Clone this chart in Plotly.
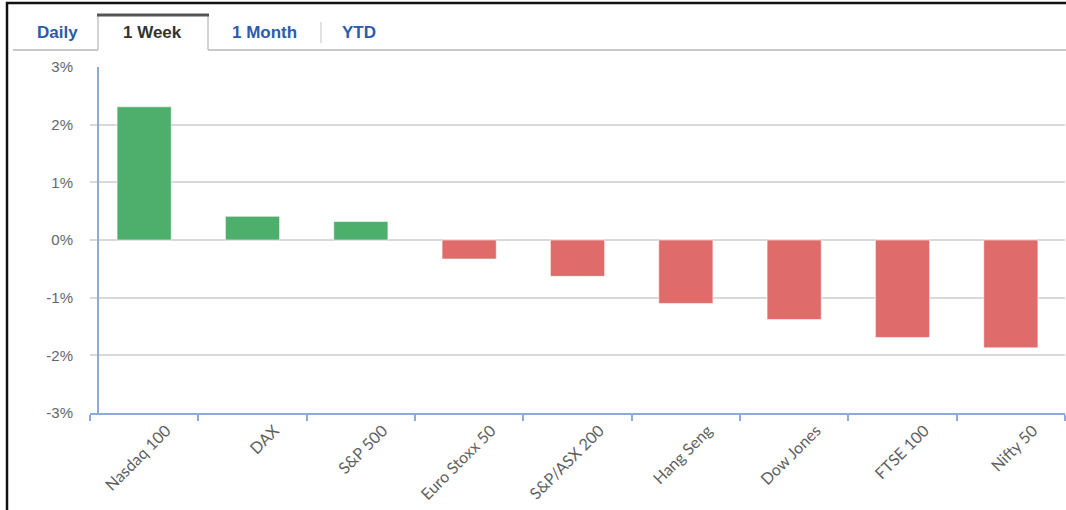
import plotly.graph_objects as go

# weekly index performance, in percent
indices = ["Nasdaq 100", "DAX", "S&P 500", "Euro Stoxx 50", "S&P/ASX 200",
           "Hang Seng", "Dow Jones", "FTSE 100", "Nifty 50"]
change_pct = [2.31, 0.41, 0.32, -0.33, -0.63, -1.10, -1.38, -1.69, -1.87]

y_ticks = [3, 2, 1, 0, -1, -2, -3]
y_tick_text = ["3%", "2%", "1%", "0%", "-1%", "-2%", "-3%"]
tabs = ["Daily", "1 Week", "1 Month", "YTD"]
active_tab = "1 Week"

GREEN = "#4daf6b"
RED = "#e06b6b"
AXIS = "#8eaadb"
GRID = "#d9d9d9"
TAB_BLUE = "#2b5ca8"

W, H = 1066, 510
ML, MR, MT, MB = 90, 1, 67, 97
PW, PH = W - ML - MR, H - MT - MB


def px(x):
    return (x - ML) / PW


def py(y):
    return (H - MB - y) / PH


def seg(x0, y0, x1, y1, color, width):
    return dict(type="line", xref="paper", yref="paper",
                x0=px(x0), x1=px(x1), y0=py(y0), y1=py(y1),
                line={"color": color, "width": width})


fig = go.Figure(
    go.Bar(
        x=indices,
        y=change_pct,
        marker_color=[GREEN if v >= 0 else RED for v in change_pct],
        marker_line={"color": "rgba(255,255,255,0.55)", "width": 1},
        hovertemplate="%{x}: %{y:.2f}%<extra></extra>",
    )
)

shapes = [
    # y axis line sits a little right of the plot edge
    seg(98, MT, 98, H - MB, AXIS, 2),
    # frame around the widget
    seg(7, 2, 7, H + 5, "#111", 2.5),
    seg(6, 3, W + 5, 3, "#111", 2.5),
    # tab strip underline (broken under the active tab)
    seg(13, 50, 98, 50, "#c9c9c9", 2),
    seg(208, 50, W + 5, 50, "#c9c9c9", 2),
    # active tab box
    seg(98, 15, 98, 50, "#c4c4c4", 1.5),
    seg(208, 15, 208, 50, "#c4c4c4", 1.5),
    seg(97, 15, 209, 15, "#555", 3),
    # separator between 1 Month and YTD
    seg(321, 22, 321, 43, "#d8d8d8", 1.5),
]

tab_x = [57, 152, 264, 359]
annotations = [
    dict(text=f"<b>{t}</b>", xref="paper", yref="paper", x=px(cx), y=py(32),
         xanchor="center", yanchor="middle", showarrow=False,
         font={"family": "Liberation Sans, Arial", "size": 17,
               "color": "#333" if t == active_tab else TAB_BLUE})
    for t, cx in zip(tabs, tab_x)
]

fig.update_layout(
    width=W,
    height=H,
    margin={"l": ML, "r": MR, "t": MT, "b": MB},
    paper_bgcolor="white",
    plot_bgcolor="white",
    bargap=0.5,
    showlegend=False,
    shapes=shapes,
    annotations=annotations,
)

fig.update_xaxes(
    showline=True,
    linecolor=AXIS,
    linewidth=2,
    ticks="outside",
    ticklen=6,
    tickwidth=2,
    tickcolor=AXIS,
    tickson="boundaries",
    tickangle=-45,
    ticklabelshift=22,
    tickfont={"family": "Lato, Open Sans", "size": 16, "color": "#5f5f5f"},
    showgrid=False,
)

fig.update_yaxes(
    range=[-3, 3],
    tickvals=y_ticks,
    ticktext=y_tick_text,
    showgrid=True,
    gridcolor=GRID,
    gridwidth=1.5,
    zeroline=False,
    showline=False,
    ticklabelstandoff=16,
    tickfont={"family": "Liberation Sans, Arial", "size": 15, "color": "#666"},
)

fig.write_html(
    "out.html",
    config={"displayModeBar": False},
    post_script="document.body.style.margin='0';",
)
